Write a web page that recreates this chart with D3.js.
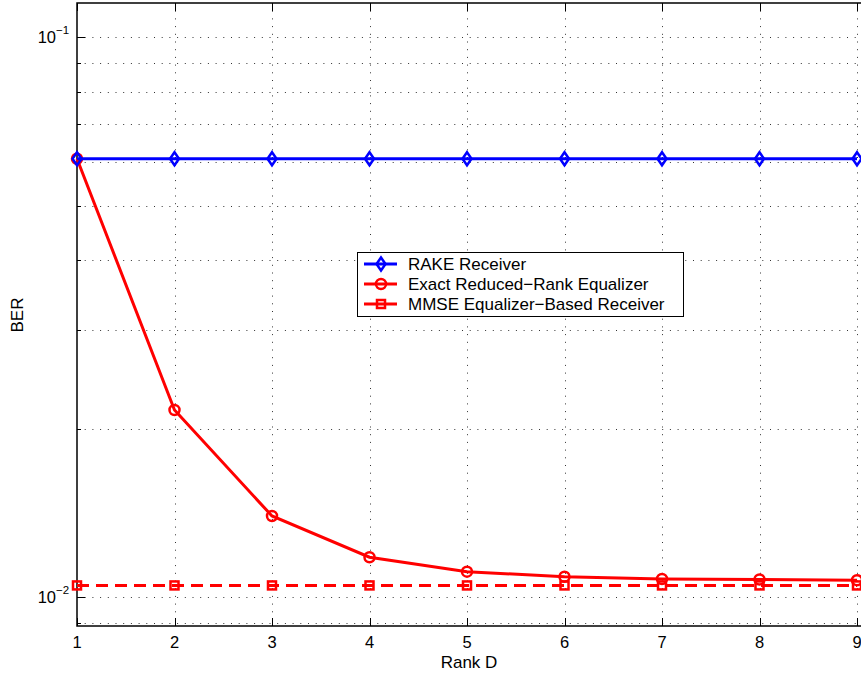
<!DOCTYPE html>
<html>
<head>
<meta charset="utf-8">
<script src="https://cdn.jsdelivr.net/npm/d3@7"></script>
<style>
  body { margin: 0; background: #fff; }
  svg { display: block; font-family: "Liberation Sans", Arial, sans-serif; }
</style>
</head>
<body>
<div id="chart"></div>
<script>
const ranks = [1, 2, 3, 4, 5, 6, 7, 8, 9];
const rake = [0.0607, 0.0607, 0.0607, 0.0607, 0.0607, 0.0607, 0.0607, 0.0607, 0.0607];
const exact = [0.0607, 0.0216, 0.01397, 0.01179, 0.01111, 0.01088, 0.01078, 0.01076, 0.01073];
const mmse = [0.0105, 0.0105, 0.0105, 0.0105, 0.0105, 0.0105, 0.0105, 0.0105, 0.0105];
const majorTicks = [0.01, 0.1];
const majorLabels = ['\u22122', '\u22121'];
const legendNames = ['RAKE Receiver', 'Exact Reduced\u2212Rank Equalizer', 'MMSE Equalizer\u2212Based Receiver'];

const width = 861;
const height = 677;
const plot = { left: 77, right: 862, top: 3, bottom: 626 };

const svg = d3.select('#chart')
    .append('svg')
    .attr('width', width)
    .attr('height', height);

const x = d3.scaleLinear()
    .domain([1, 9])
    .range([77, 857]);

const y = d3.scaleLog()
    .domain([0.008887, 0.11515])
    .range([plot.bottom, plot.top]);

// minor grid values for log axis
const minorVals = [0.009];
for (let k = 1; k <= 9; k++) minorVals.push(k * 0.01);
minorVals.push(0.1);

const grid = svg.append('g')
    .attr('stroke', '#333')
    .attr('stroke-width', 1)
    .attr('stroke-dasharray', '1,6.7');

grid.selectAll('.hg')
    .data(minorVals)
    .join('line')
    .attr('x1', plot.left)
    .attr('x2', plot.right)
    .attr('y1', d => Math.round(y(d)) + 0.5)
    .attr('y2', d => Math.round(y(d)) + 0.5);

grid.selectAll('.vg')
    .data(ranks.slice(1))
    .join('line')
    .attr('x1', d => Math.round(x(d)) + 0.5)
    .attr('x2', d => Math.round(x(d)) + 0.5)
    .attr('y1', plot.top)
    .attr('y2', plot.bottom);

// axes box
svg.append('rect')
    .attr('x', plot.left)
    .attr('y', plot.top)
    .attr('width', plot.right - plot.left)
    .attr('height', plot.bottom - plot.top)
    .attr('fill', 'none')
    .attr('stroke', '#000')
    .attr('stroke-width', 1.5);

// x ticks (inward)
const ticks = svg.append('g').attr('stroke', '#000').attr('stroke-width', 1);
ticks.selectAll('.xb')
    .data(ranks)
    .join('line')
    .attr('x1', d => Math.round(x(d)) + 0.5)
    .attr('x2', d => Math.round(x(d)) + 0.5)
    .attr('y1', plot.bottom)
    .attr('y2', plot.bottom - 8);
ticks.selectAll('.xt')
    .data(ranks)
    .join('line')
    .attr('x1', d => Math.round(x(d)) + 0.5)
    .attr('x2', d => Math.round(x(d)) + 0.5)
    .attr('y1', plot.top)
    .attr('y2', plot.top + 8);

// y ticks (inward)
ticks.selectAll('.yl')
    .data(minorVals)
    .join('line')
    .attr('x1', plot.left)
    .attr('x2', d => plot.left + (majorTicks.includes(d) ? 8 : 4))
    .attr('y1', d => Math.round(y(d)) + 0.5)
    .attr('y2', d => Math.round(y(d)) + 0.5);

// x tick labels
svg.append('g')
    .selectAll('text')
    .data(ranks)
    .join('text')
    .attr('x', d => x(d))
    .attr('y', 648)
    .attr('text-anchor', 'middle')
    .attr('font-size', '16.5px')
    .text(d => d);

// y tick labels 10^n
const yl = svg.append('g')
    .selectAll('g')
    .data(majorTicks)
    .join('g')
    .attr('transform', d => `translate(0, ${y(d)})`);
yl.append('text')
    .attr('x', 56)
    .attr('y', 6)
    .attr('text-anchor', 'end')
    .attr('font-size', '16.5px')
    .text('10');
yl.append('text')
    .attr('x', 56)
    .attr('y', -3)
    .attr('font-size', '11.5px')
    .text((d, i) => majorLabels[i]);

// axis titles
svg.append('text')
    .attr('x', 469)
    .attr('y', 668)
    .attr('text-anchor', 'middle')
    .attr('font-size', '17px')
    .text('Rank D');

svg.append('text')
    .attr('transform', 'translate(23, 315) rotate(-90)')
    .attr('text-anchor', 'middle')
    .attr('font-size', '17px')
    .text('BER');

// series
const series = [
    { name: legendNames[0], values: rake, color: '#0000ff', dash: null, marker: 'diamond' },
    { name: legendNames[1], values: exact, color: '#ff0000', dash: null, marker: 'circle' },
    { name: legendNames[2], values: mmse, color: '#ff0000', dash: '12,7', marker: 'square' }
];

const line = d3.line()
    .x((d, i) => x(ranks[i]))
    .y(d => y(d));

const drawMarker = (g, type, color) => {
    if (type === 'diamond') {
        g.append('path')
            .attr('d', 'M0,-6.5L4.5,0L0,6.5L-4.5,0Z')
            .attr('fill', 'none').attr('stroke', color).attr('stroke-width', 2.5);
    } else if (type === 'circle') {
        g.append('circle')
            .attr('r', 5)
            .attr('fill', 'none').attr('stroke', color).attr('stroke-width', 2.5);
    } else {
        g.append('rect')
            .attr('x', -4).attr('y', -4).attr('width', 8).attr('height', 8)
            .attr('fill', 'none').attr('stroke', color).attr('stroke-width', 2.5);
    }
};

const marks = svg.append('g');
series.slice().reverse().forEach(s => {
    marks.append('path')
        .datum(s.values)
        .attr('d', line)
        .attr('fill', 'none')
        .attr('stroke', s.color)
        .attr('stroke-width', 3)
        .attr('stroke-dasharray', s.dash);
    s.values.forEach((v, i) => {
        const g = marks.append('g').attr('transform', `translate(${x(ranks[i])}, ${y(v)})`);
        drawMarker(g, s.marker, s.color);
    });
});

// legend
const legend = svg.append('g');
legend.append('rect')
    .attr('x', 357.5)
    .attr('y', 252.5)
    .attr('width', 326)
    .attr('height', 64)
    .attr('fill', '#fff')
    .attr('stroke', '#000')
    .attr('stroke-width', 1);

series.forEach((s, i) => {
    const cy = 264 + i * 20;
    const row = legend.append('g');
    row.append('line')
        .attr('x1', 364).attr('x2', 397)
        .attr('y1', cy).attr('y2', cy)
        .attr('stroke', s.color)
        .attr('stroke-width', 3);
    const m = row.append('g').attr('transform', `translate(381, ${cy})`);
    drawMarker(m, s.marker, s.color);
    row.append('text')
        .attr('x', 408)
        .attr('y', cy + 6)
        .attr('font-size', '17px')
        .text(s.name);
});
</script>
</body>
</html>
